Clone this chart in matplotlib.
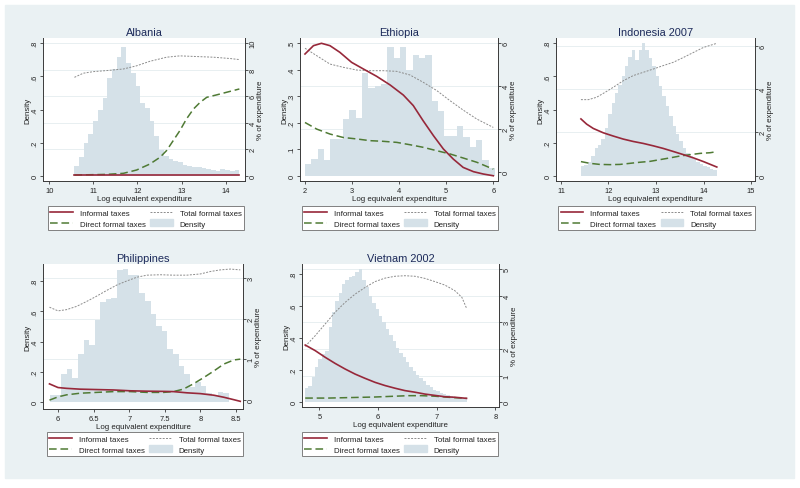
import numpy as np
import matplotlib
matplotlib.use('Agg')
import matplotlib.pyplot as plt
from matplotlib.lines import Line2D
from matplotlib.patches import Patch, Rectangle
from matplotlib.transforms import blended_transform_factory

plt.rcParams['font.family'] = ['Liberation Sans', 'DejaVu Sans']

W, H = 800, 489
BG = '#EAF1F3'
BAR = '#D5E1E8'
RED = '#97283A'
GREEN = '#4F7A34'
GRAY = '#8C8C8C'
NAVY = '#1C2A5A'
AXC = '#3A3A3A'

# ---------------- data ----------------
# Albania
alb_bins = (10.567, 14.31)
alb_density = [0.06, 0.11, 0.2, 0.25, 0.33, 0.4, 0.47, 0.59, 0.645, 0.72, 0.78, 0.68, 0.62, 0.54,
               0.44, 0.41, 0.33, 0.24, 0.155, 0.12, 0.1, 0.09, 0.08, 0.065, 0.06, 0.055, 0.05,
               0.045, 0.04, 0.035, 0.03, 0.04, 0.035, 0.03, 0.035]
alb_x_inf = [10.57, 11.5, 12.5, 13.5, 14.31]
alb_informal = [0.05, 0.05, 0.05, 0.05, 0.05]
alb_x_dir = [10.57, 11.3, 11.68, 11.98, 12.28, 12.51, 12.66, 12.81, 12.96, 13.11, 13.27, 13.42,
             13.57, 13.79, 14.02, 14.31]
alb_direct = [0.05, 0.1, 0.18, 0.43, 0.88, 1.39, 1.9, 2.65, 3.4, 4.28, 5.04, 5.54, 5.92, 6.1,
              6.3, 6.55]
alb_x_tot = [10.57, 10.77, 11.0, 11.3, 11.68, 11.98, 12.28, 12.66, 12.96, 13.34, 13.72, 14.1, 14.31]
alb_total = [7.43, 7.74, 7.86, 7.94, 8.06, 8.3, 8.64, 8.95, 9.05, 9.0, 8.95, 8.85, 8.77]

# Ethiopia
eth_bins = (2.0, 6.035)
eth_density = [0.044, 0.063, 0.10, 0.059, 0.137, 0.137, 0.215, 0.247, 0.217, 0.386, 0.332, 0.338,
               0.347, 0.487, 0.444, 0.487, 0.40, 0.457, 0.445, 0.457, 0.283, 0.245, 0.15, 0.15,
               0.187, 0.145, 0.11, 0.133, 0.06, 0.03]
eth_x_inf = [2.0, 2.18, 2.35, 2.53, 2.74, 2.99, 3.24, 3.52, 3.81, 4.09, 4.3, 4.51, 4.73, 4.94,
             5.15, 5.36, 5.58, 5.79, 6.0]
eth_informal = [5.5, 5.89, 6.0, 5.89, 5.58, 5.11, 4.8, 4.46, 4.05, 3.58, 3.09, 2.38, 1.68, 1.06,
                0.59, 0.2, 0.0, -0.11, -0.19]
eth_x_tot = [2.0, 2.25, 2.53, 2.81, 3.1, 3.38, 3.66, 3.95, 4.23, 4.51, 4.8, 5.08, 5.36, 5.65, 6.0]
eth_total = [5.77, 5.42, 5.03, 4.88, 4.75, 4.72, 4.72, 4.69, 4.52, 4.18, 3.79, 3.32, 2.88, 2.46, 2.07]
eth_direct = [2.3, 1.99, 1.76, 1.6, 1.53, 1.45, 1.42, 1.37, 1.26, 1.14, 0.98, 0.83, 0.64, 0.44, 0.12]

# Indonesia 2007
ind_bins = (11.42, 14.28)
ind_density = [0.06, 0.065, 0.08, 0.12, 0.17, 0.185, 0.22, 0.29, 0.37, 0.44, 0.5, 0.55, 0.6, 0.66,
               0.72, 0.76, 0.7, 0.76, 0.8, 0.76, 0.71, 0.66, 0.6, 0.54, 0.48, 0.42, 0.36, 0.3,
               0.25, 0.21, 0.17, 0.14, 0.12, 0.1, 0.08, 0.07, 0.06, 0.05, 0.04, 0.035]
ind_x_inf = [11.42, 11.54, 11.68, 11.89, 12.1, 12.31, 12.52, 12.73, 12.94, 13.15, 13.36, 13.58,
             13.79, 14.0, 14.28]
ind_informal = [2.62, 2.38, 2.18, 1.98, 1.83, 1.69, 1.58, 1.49, 1.38, 1.26, 1.12, 0.97, 0.82, 0.65, 0.4]
ind_x_dir = [11.42, 11.61, 11.82, 12.03, 12.24, 12.45, 12.66, 12.87, 13.08, 13.29, 13.51, 13.72,
             13.93, 14.14, 14.28]
ind_direct = [0.65, 0.57, 0.52, 0.51, 0.52, 0.57, 0.62, 0.66, 0.74, 0.82, 0.91, 0.97, 1.03, 1.06, 1.11]
ind_x_tot = [11.42, 11.58, 11.75, 11.93, 12.1, 12.31, 12.52, 12.73, 12.94, 13.15, 13.36, 13.58,
             13.79, 14.0, 14.28]
ind_total = [3.51, 3.51, 3.62, 3.85, 4.08, 4.38, 4.62, 4.77, 4.92, 5.08, 5.23, 5.46, 5.69, 5.92, 6.11]

# Philippines
phl_bins = (5.887, 8.399)
phl_density = [0.05, 0.05, 0.19, 0.22, 0.16, 0.32, 0.41, 0.38, 0.54, 0.66, 0.68, 0.69, 0.87, 0.877,
               0.84, 0.84, 0.72, 0.67, 0.58, 0.5, 0.47, 0.35, 0.32, 0.24, 0.19, 0.10, 0.135, 0.105,
               0.06, 0.04, 0.066, 0.06]
phl_x_inf = [5.88, 6.0, 6.12, 6.31, 6.54, 6.78, 7.01, 7.25, 7.48, 7.62, 7.81, 8.0, 8.19, 8.33,
             8.47, 8.56]
phl_informal = [0.39, 0.30, 0.28, 0.26, 0.25, 0.24, 0.22, 0.21, 0.205, 0.2, 0.17, 0.15, 0.11, 0.06,
                0.0, -0.04]
phl_x_dir = [5.88, 6.0, 6.12, 6.31, 6.54, 6.78, 7.01, 7.25, 7.48, 7.62, 7.76, 7.9, 8.05, 8.19,
             8.33, 8.47, 8.56]
phl_direct = [-0.01, 0.07, 0.12, 0.16, 0.18, 0.2, 0.2, 0.18, 0.18, 0.2, 0.26, 0.39, 0.55, 0.71,
              0.88, 0.98, 1.0]
phl_x_tot = [5.88, 6.0, 6.12, 6.26, 6.4, 6.54, 6.68, 6.83, 6.97, 7.11, 7.25, 7.44, 7.62, 7.81,
             8.0, 8.14, 8.28, 8.42, 8.56]
phl_total = [2.28, 2.19, 2.22, 2.30, 2.42, 2.55, 2.69, 2.83, 2.93, 3.02, 3.07, 3.08, 3.07, 3.07,
             3.1, 3.16, 3.2, 3.22, 3.2]

# Vietnam 2002
vnm_bins = (4.756, 7.51)
vnm_density = [0.09, 0.10, 0.16, 0.22, 0.27, 0.30, 0.32, 0.47, 0.56, 0.63, 0.68, 0.74, 0.76, 0.78,
               0.79, 0.81, 0.83, 0.76, 0.72, 0.66, 0.62, 0.58, 0.54, 0.50, 0.46, 0.42, 0.38, 0.34,
               0.31, 0.28, 0.25, 0.22, 0.195, 0.17, 0.15, 0.13, 0.11, 0.095, 0.08, 0.07, 0.06,
               0.05, 0.045, 0.04, 0.035, 0.03, 0.028, 0.025]
vnm_x_inf = [4.76, 4.93, 5.1, 5.27, 5.44, 5.61, 5.78, 5.95, 6.12, 6.29, 6.46, 6.63, 6.8, 6.97,
             7.14, 7.31, 7.51]
vnm_informal = [2.15, 1.94, 1.69, 1.46, 1.25, 1.06, 0.9, 0.75, 0.63, 0.53, 0.44, 0.38, 0.31, 0.26,
                0.21, 0.19, 0.15]
vnm_x_dir = [4.76, 5.15, 5.55, 5.95, 6.29, 6.52, 6.74, 6.97, 7.2, 7.51]
vnm_direct = [0.16, 0.16, 0.18, 0.2, 0.23, 0.25, 0.25, 0.23, 0.19, 0.15]
vnm_x_tot = [4.76, 4.93, 5.1, 5.27, 5.44, 5.61, 5.78, 5.95, 6.12, 6.29, 6.46, 6.63, 6.8, 6.97,
             7.14, 7.31, 7.43, 7.51]
vnm_total = [2.1, 2.5, 2.94, 3.38, 3.75, 4.06, 4.31, 4.53, 4.66, 4.73, 4.75, 4.73, 4.65, 4.53,
             4.4, 4.19, 3.94, 3.53]


def fmt_dec(v):
    s = f'{v:g}'
    return s[1:] if s.startswith('0.') else s


def draw_panel(fig, box, legbox, title, bins, density, series, xlim, ylim_l, ylim_r,
               xticks, lticks, rticks):
    l, r, t, b = box
    w, h = r - l, b - t
    ax = fig.add_axes([l / W, 1 - b / H, w / W, h / H])
    ax.set_facecolor('white')
    ax2 = ax.twinx()

    edges = np.linspace(bins[0], bins[1], len(density) + 1)
    ax.bar(edges[:-1], density, width=np.diff(edges), align='edge', color=BAR,
           linewidth=0, zorder=1)

    # faint grid on the right-axis ticks
    tr = blended_transform_factory(ax.transAxes, ax2.transData)
    for v in rticks[1:]:
        ax.plot([0, 1], [v, v], transform=tr, color='#E4ECEF', lw=0.6, zorder=0.5)

    (xi, yi), (xd, yd), (xt, yt) = series
    ax2.plot(xt, yt, color=GRAY, lw=0.7, dashes=(2, 1.4))
    ax2.plot(xd, yd, color=GREEN, lw=1.1, dashes=(5, 2.5))
    ax2.plot(xi, yi, color=RED, lw=1.2)

    ax.set_xlim(xlim)
    ax.set_ylim(ylim_l)
    ax2.set_ylim(ylim_r)
    ax.set_xticks(xticks)
    ax.set_xticklabels([f'{v:g}' for v in xticks])
    ax.set_yticks(lticks)
    ax.set_yticklabels([fmt_dec(v) for v in lticks])
    ax2.set_yticks(rticks)
    ax2.set_yticklabels([f'{v:g}' for v in rticks])

    for a in (ax, ax2):
        a.tick_params(axis='both', direction='out', length=2.2, width=0.6, color=AXC,
                      labelsize=5.4, labelcolor='#222222', pad=1.2)
        a.tick_params(axis='y', labelrotation=90)
        for lab in a.get_yticklabels():
            lab.set_va('center')
    ax.tick_params(axis='x', pad=1.8)

    for s in ('top', 'right'):
        ax.spines[s].set_visible(False)
    for s in ('top', 'left', 'bottom'):
        ax2.spines[s].set_visible(False)
    for sp in (ax.spines['left'], ax.spines['bottom'], ax2.spines['right']):
        sp.set_color(AXC)
        sp.set_linewidth(0.7)

    ax.set_title(title, fontsize=7.9, color=NAVY, pad=2.5)
    ax.set_xlabel('Log equivalent expenditure', fontsize=5.7, color='#222222')
    ax.xaxis.set_label_coords(0.5, -14 / h)
    ax.set_ylabel('Density', fontsize=5.7, color='#222222')
    ax.yaxis.set_label_coords(-11.5 / w, 0.5)
    ax2.set_ylabel('% of expenditure', fontsize=5.7, color='#222222')
    ax2.yaxis.set_label_coords(1 + 12 / w, 0.5)

    handles = [Line2D([], [], color=RED, lw=1.2),
               Line2D([], [], color=GREEN, lw=1.1, dashes=(5, 2.5)),
               Line2D([], [], color=GRAY, lw=0.7, dashes=(2, 1.4)),
               Patch(facecolor=BAR, edgecolor=BAR)]
    labels = ['Informal taxes', 'Direct formal taxes', 'Total formal taxes', 'Density']
    ll, lr, lt, lb = legbox
    leg = ax2.legend(handles, labels, ncol=2, loc='upper center',
                     bbox_to_anchor=((ll + lr) / 2 / W, 1 - lt / H),
                     bbox_transform=fig.transFigure, borderaxespad=0, fontsize=5.7,
                     handlelength=2.8, handleheight=1.0, handletextpad=0.9,
                     labelspacing=0.3, borderpad=0.35, columnspacing=0.6,
                     fancybox=False, framealpha=1, edgecolor='#808080')
    leg.get_frame().set_linewidth(0.7)
    for txt in leg.get_texts():
        txt.set_color('#222222')
    return ax, ax2


fig = plt.figure(figsize=(W / 100, H / 100), dpi=100)
fig.patch.set_facecolor('white')
fig.patches.append(Rectangle((5 / W, 1 - 479 / H), 789 / W, 473 / H,
                             transform=fig.transFigure, color=BG, zorder=-10))

draw_panel(fig, (43, 245, 39, 182), (47, 245, 207, 233), 'Albania', alb_bins, alb_density,
           [(alb_x_inf, alb_informal), (alb_x_dir, alb_direct), (alb_x_tot, alb_total)],
           (9.857, 14.438), (-0.032, 0.832), (-0.4, 10.4),
           [10, 11, 12, 13, 14], [0, 0.2, 0.4, 0.6, 0.8], [0, 2, 4, 6, 8, 10])

draw_panel(fig, (300, 498, 39, 182), (303, 497, 207, 233), 'Ethiopia', eth_bins, eth_density,
           [(eth_x_inf, eth_informal), (eth_x_tot, eth_direct), (eth_x_tot, eth_total)],
           (1.894, 6.1), (-0.02, 0.52), (-0.435, 6.248),
           [2, 3, 4, 5, 6], [0, 0.1, 0.2, 0.3, 0.4, 0.5], [0, 2, 4, 6])

draw_panel(fig, (556, 755, 39, 182), (558, 755, 207, 233), 'Indonesia 2007', ind_bins, ind_density,
           [(ind_x_inf, ind_informal), (ind_x_dir, ind_direct), (ind_x_tot, ind_total)],
           (10.895, 15.084), (-0.032, 0.832), (-0.245, 6.355),
           [11, 12, 13, 14, 15], [0, 0.2, 0.4, 0.6, 0.8], [0, 2, 4, 6])

draw_panel(fig, (43, 243, 265, 410), (47, 243, 433, 459), 'Philippines', phl_bins, phl_density,
           [(phl_x_inf, phl_informal), (phl_x_dir, phl_direct), (phl_x_tot, phl_total)],
           (5.789, 8.598), (-0.044, 0.912), (-0.229, 3.345),
           [6, 6.5, 7, 7.5, 8, 8.5], [0, 0.2, 0.4, 0.6, 0.8], [0, 1, 2, 3])

draw_panel(fig, (302, 499, 265, 408), (303, 497, 433, 459), 'Vietnam 2002', vnm_bins, vnm_density,
           [(vnm_x_inf, vnm_informal), (vnm_x_dir, vnm_direct), (vnm_x_tot, vnm_total)],
           (4.705, 8.063), (-0.029, 0.862), (-0.175, 5.19),
           [5, 6, 7, 8], [0, 0.2, 0.4, 0.6, 0.8], [0, 1, 2, 3, 4, 5])

fig.savefig('out.png', dpi=100, facecolor='white')
